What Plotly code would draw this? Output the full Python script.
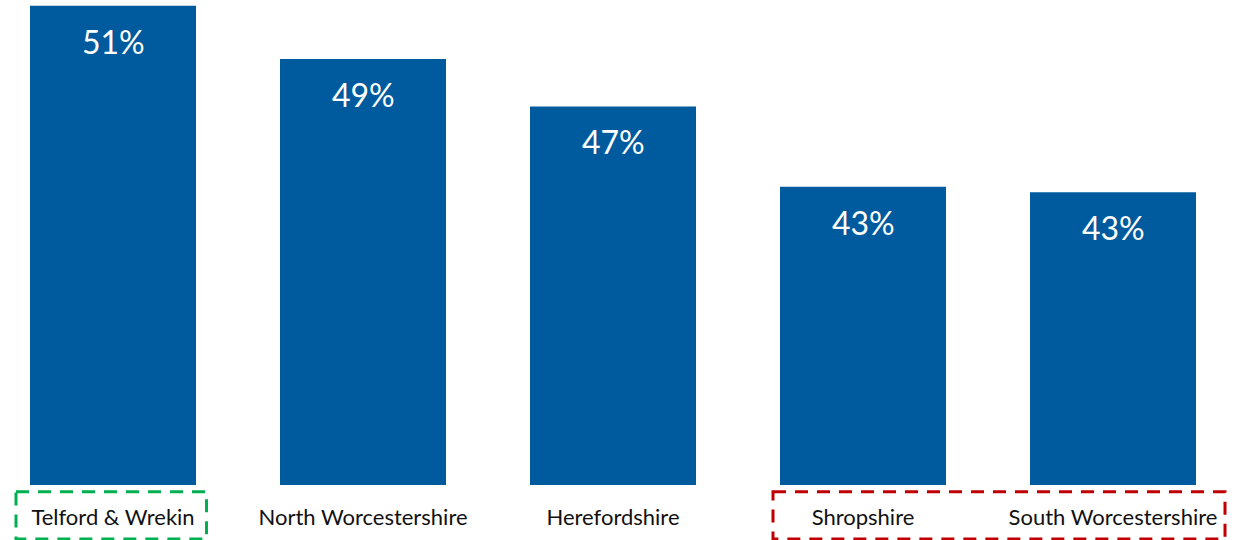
import plotly.graph_objects as go

categories = ["Telford & Wrekin", "North Worcestershire", "Herefordshire", "Shropshire", "South Worcestershire"]
values = [51.2, 48.85, 46.75, 43.2, 42.95]
value_labels = ["51%", "49%", "47%", "43%", "43%"]

BAR_COLOR = "#005A9E"
FONT = "Lato"

fig = go.Figure()
fig.add_trace(go.Bar(
    x=list(range(len(categories))), y=values,
    marker=dict(color=BAR_COLOR, line=dict(width=0)),
    width=0.664, hoverinfo="skip",
))

for i, (v, t) in enumerate(zip(values, value_labels)):
    fig.add_annotation(x=i, y=v, text=t, showarrow=False, yanchor="top", yshift=-14,
                       font=dict(family=FONT, size=32, color="white"))

# highlight boxes around category labels
fig.add_shape(type="rect", xref="x", yref="paper", x0=-0.388, x1=0.374, y0=-0.014, y1=-0.112,
              line=dict(color="#00B050", width=3, dash="13px,9px"))
fig.add_shape(type="rect", xref="x", yref="paper", x0=2.64, x1=4.448, y0=-0.014, y1=-0.112,
              line=dict(color="#C00000", width=3, dash="13px,9px"))

fig.update_layout(
    width=1243, height=540,
    margin=dict(l=0, r=0, t=2, b=55),
    paper_bgcolor="white", plot_bgcolor="white",
    showlegend=False,
    font=dict(family=FONT, color="black"),
)
fig.update_xaxes(range=[-0.452, 4.52], tickmode="array", tickvals=list(range(len(categories))),
                 ticktext=categories, showgrid=False, zeroline=False, showline=False, ticks="",
                 tickfont=dict(family=FONT, size=22, color="#111111"), ticklabelstandoff=17)
fig.update_yaxes(range=[30, 51.37], visible=False, showgrid=False)

fig.write_html("out.html", config={"displayModeBar": False},
               post_script="document.body.style.margin='0';document.body.style.overflow='hidden';")
